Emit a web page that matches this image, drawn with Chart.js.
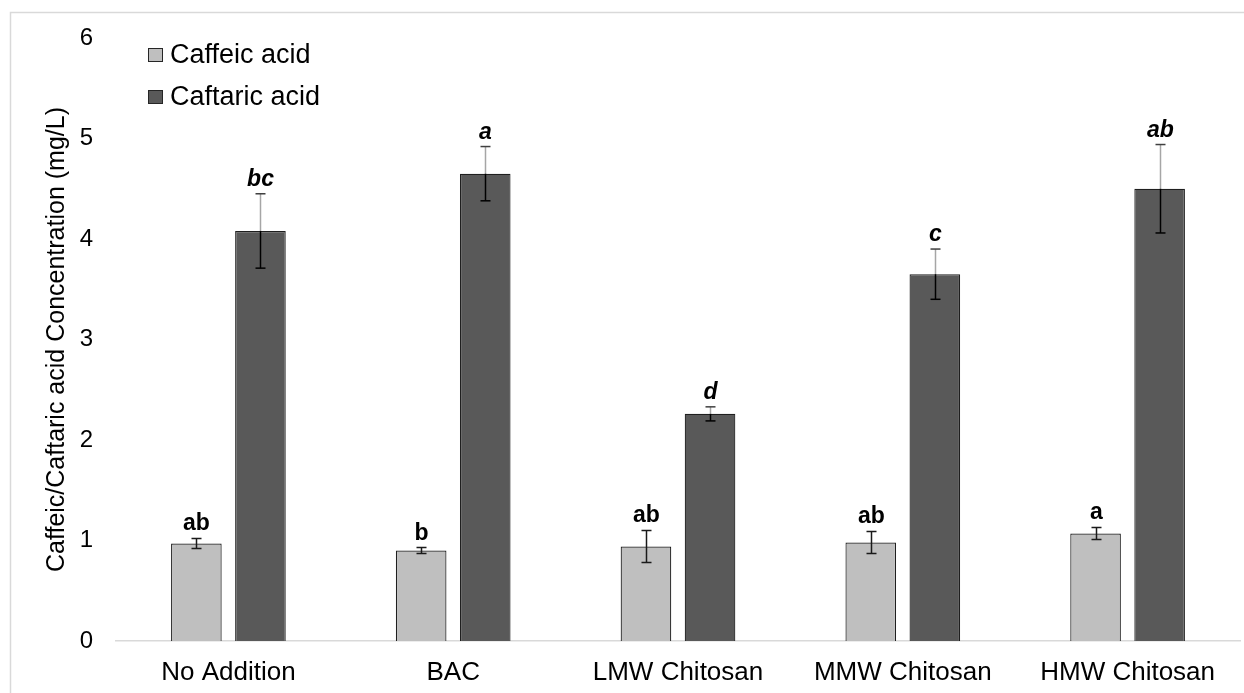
<!DOCTYPE html>
<html><head><meta charset="utf-8">
<script src="https://cdn.jsdelivr.net/npm/chart.js@4.4.0/dist/chart.umd.min.js"></script>
<style>html,body{margin:0;padding:0;background:#fff;overflow:hidden;} #wrap{width:1244px;height:693px;position:relative;}</style>
</head><body><div id="wrap"><canvas id="c" width="1244" height="693"></canvas></div>
<script>
const categories = ['No Addition', 'BAC', 'LMW Chitosan', 'MMW Chitosan', 'HMW Chitosan'];
const caffeic = [0.97, 0.90, 0.94, 0.98, 1.07];
const caffeicErr = [0.05, 0.03, 0.16, 0.11, 0.06];
const caftaric = [4.08, 4.65, 2.26, 3.65, 4.50];
const caftaricErr = [0.37, 0.27, 0.07, 0.25, 0.44];
const caffeicLetters = ['ab', 'b', 'ab', 'ab', 'a'];
const caftaricLetters = ['bc', 'a', 'd', 'c', 'ab'];
const yTicks = [0, 1, 2, 3, 4, 5, 6];
const yTitle = 'Caffeic/Caftaric acid Concentration (mg/L)';
const seriesNames = ['Caffeic acid', 'Caftaric acid'];

const FONT = "Arial, 'Liberation Sans', Helvetica, sans-serif";

const frame = {
  id: 'frame',
  beforeDraw(chart) {
    const ctx = chart.ctx;
    ctx.save();
    ctx.fillStyle = '#fff';
    ctx.fillRect(0, 0, chart.width, chart.height);
    ctx.strokeStyle = '#d9d9d9';
    ctx.lineWidth = 1.5;
    ctx.strokeRect(10.5, 12.5, chart.width + 20, chart.height + 20);
    ctx.restore();
  }
};

const errAndLetters = {
  id: 'errAndLetters',
  afterDatasetsDraw(chart) {
    const ctx = chart.ctx;
    const ys = chart.scales.y;
    const errs = [caffeicErr, caftaricErr];
    const letters = [caffeicLetters, caftaricLetters];
    ctx.save();
    chart.data.datasets.forEach((ds, di) => {
      const meta = chart.getDatasetMeta(di);
      meta.data.forEach((bar, i) => {
        const v = ds.data[i], e = errs[di][i];
        const x = Math.round(bar.x) + 0.5;
        const yT = ys.getPixelForValue(v + e);
        const yB = ys.getPixelForValue(v - e);
        const yV = ys.getPixelForValue(v);
        const cap = 5;
        ctx.lineWidth = 1.5;
        if (di === 1) {
          ctx.strokeStyle = '#a6a6a6';
          ctx.beginPath(); ctx.moveTo(x, yT); ctx.lineTo(x, yV); ctx.stroke();
          ctx.strokeStyle = '#000';
          ctx.beginPath(); ctx.moveTo(x, yV); ctx.lineTo(x, yB); ctx.stroke();
          ctx.strokeStyle = '#404040';
          ctx.beginPath(); ctx.moveTo(x - cap, yT); ctx.lineTo(x + cap, yT); ctx.stroke();
          ctx.strokeStyle = '#000';
          ctx.beginPath(); ctx.moveTo(x - cap, yB); ctx.lineTo(x + cap, yB); ctx.stroke();
        } else {
          ctx.strokeStyle = '#1a1a1a';
          ctx.beginPath(); ctx.moveTo(x, yT); ctx.lineTo(x, yB); ctx.stroke();
          ctx.beginPath(); ctx.moveTo(x - cap, yT); ctx.lineTo(x + cap, yT);
          ctx.moveTo(x - cap, yB); ctx.lineTo(x + cap, yB); ctx.stroke();
        }
        ctx.fillStyle = '#000';
        ctx.font = (di === 1 ? 'italic bold ' : 'bold ') + '23px ' + FONT;
        ctx.textAlign = 'center';
        ctx.textBaseline = 'alphabetic';
        ctx.fillText(letters[di][i], x, yT - 8);
      });
    });
    ctx.restore();
  }
};

const legendAndTitle = {
  id: 'legendAndTitle',
  afterDraw(chart) {
    const ctx = chart.ctx;
    ctx.save();
    const rows = [{ y: 55, ds: 0 }, { y: 97, ds: 1 }];
    rows.forEach(r => {
      const ds = chart.data.datasets[r.ds];
      ctx.fillStyle = ds.backgroundColor;
      ctx.fillRect(148, r.y - 7, 15, 14);
      ctx.strokeStyle = '#262626';
      ctx.lineWidth = 1;
      ctx.strokeRect(148.5, r.y - 6.5, 14, 13);
      ctx.fillStyle = '#000';
      ctx.font = '27px ' + FONT;
      ctx.textAlign = 'left';
      ctx.textBaseline = 'middle';
      ctx.fillText(ds.label, 170, r.y + 1);
    });
    const ca = chart.chartArea;
    ctx.translate(57, (ca.top + ca.bottom) / 2);
    ctx.rotate(-Math.PI / 2);
    ctx.font = '25px ' + FONT;
    ctx.textAlign = 'center';
    ctx.textBaseline = 'middle';
    ctx.fillStyle = '#000';
    ctx.fillText(yTitle, 0, 0);
    ctx.restore();
  }
};

new Chart(document.getElementById('c'), {
  type: 'bar',
  data: {
    labels: categories,
    datasets: [
      { label: seriesNames[0], data: caffeic, backgroundColor: '#bfbfbf', borderColor: '#1f1f1f', borderWidth: 1.2,
        categoryPercentage: 0.57, barPercentage: 0.79 },
      { label: seriesNames[1], data: caftaric, backgroundColor: '#595959', borderColor: '#1f1f1f', borderWidth: 1.2,
        categoryPercentage: 0.57, barPercentage: 0.79 }
    ]
  },
  options: {
    responsive: false,
    animation: false,
    devicePixelRatio: 1,
    layout: { padding: { top: 38, right: 4, left: 0, bottom: 0 } },
    plugins: { legend: { display: false }, tooltip: { enabled: false } },
    scales: {
      x: {
        grid: { display: false, drawTicks: false },
        border: { display: true, color: '#d9d9d9', width: 1.5 },
        ticks: { color: '#000', font: { family: FONT, size: 26 }, padding: 16, maxRotation: 0, autoSkip: false },
        afterFit(s) { s.height = 52; }
      },
      y: {
        min: 0, max: 6,
        afterBuildTicks(s) { s.ticks = yTicks.map(v => ({ value: v })); },
        grid: { display: false, drawTicks: false },
        border: { display: false },
        ticks: { color: '#000', font: { family: FONT, size: 24 }, padding: 23 },
        afterFit(s) { s.width = 116; }
      }
    }
  },
  plugins: [frame, errAndLetters, legendAndTitle]
});
</script>
</body></html>
